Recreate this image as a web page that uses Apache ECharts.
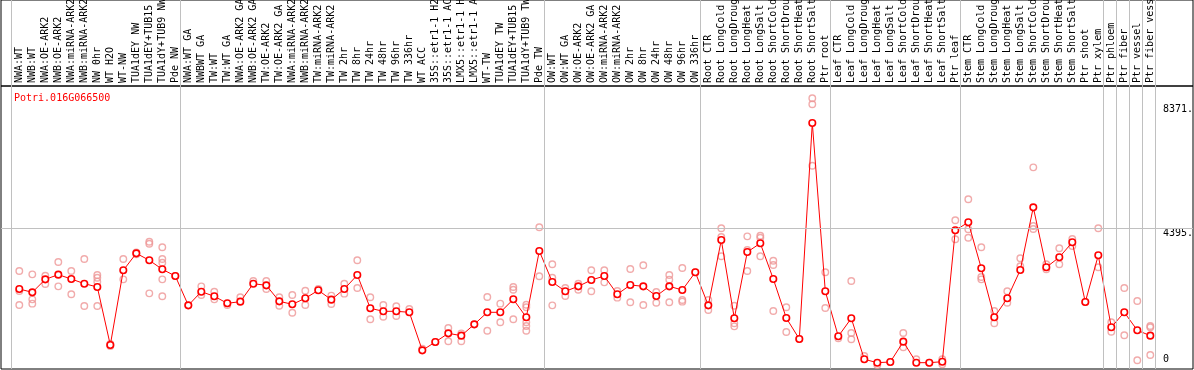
<!DOCTYPE html>
<html>
<head>
<meta charset="utf-8">
<script src="https://cdn.jsdelivr.net/npm/echarts@6/dist/echarts.min.js"></script>
<style>
html,body{margin:0;padding:0;background:#fff;}
#chart{width:1194px;height:370px;}
</style>
</head>
<body>
<div id="chart"></div>
<script>
const geneId = 'Potri.016G066500';

const categories = [
 'NWA:WT','NWB:WT','NWA:OE-ARK2','NWB:OE-ARK2','NWA:miRNA-ARK2','NWB:miRNA-ARK2','NW 0hr','WT H2O','WT-NW',
 'TUA1dEY NW','TUA1dEY+TUB15 NW','TUA1dY+TUB9 NW','Pde NW',
 'NWA:WT GA','NWBWT GA','TW:WT','TW:WT GA','NWA:OE-ARK2 GA','NWB:OE-ARK2 GA','TW:OE-ARK2','TW:OE-ARK2 GA',
 'NWA:miRNA-ARK2','NWB:miRNA-ARK2','TW:miRNA-ARK2','TW:miRNA-ARK2 GA',
 'TW 2hr','TW 8hr','TW 24hr','TW 48hr','TW 96hr','TW 336hr','WT ACC',
 '35S::etr1-1 H2O','35S::etr1-1 ACC','LMX5::etr1-1 H2O','LMX5::etr1-1 ACC','WT-TW',
 'TUA1dEY TW','TUA1dEY+TUB15 TW','TUA1dY+TUB9 TW','Pde TW',
 'OW:WT','OW:WT GA','OW:OE-ARK2','OW:OE-ARK2 GA','OW:miRNA-ARK2','OW:miRNA-ARK2 GA',
 'OW 2hr','OW 8hr','OW 24hr','OW 48hr','OW 96hr','OW 336hr',
 'Root CTR','Root LongCold','Root LongDrought','Root LongHeat','Root LongSalt',
 'Root ShortCold','Root ShortDrought','Root ShortHeat','Root ShortSalt','Ptr root',
 'Leaf CTR','Leaf LongCold','Leaf LongDrought','Leaf LongHeat','Leaf LongSalt',
 'Leaf ShortCold','Leaf ShortDrought','Leaf ShortHeat','Leaf ShortSalt','Ptr leaf',
 'Stem CTR','Stem LongCold','Stem LongDrought','Stem LongHeat','Stem LongSalt',
 'Stem ShortCold','Stem ShortDrought','Stem ShortHeat','Stem ShortSalt','Ptr shoot',
 'Ptr xylem','Ptr phloem','Ptr fiber','Ptr vessel','Ptr fiber vessel'
];

const means = [
 2443,2336,2754,2904,2765,2614,2508,642,3044,3590,3366,3076,2861,
 1918,2357,2208,1983,2036,2614,2561,2046,1951,2144,2401,2101,2443,2893,1822,1726,1726,1694,471,739,1018,943,1307,1694,1694,2112,1533,3664,
 2668,2369,2529,2732,2861,2272,2572,2529,2218,2529,2411,2980,
 1918,4018,1501,3633,3913,2765,1510,836,7780,2369,
 922,1501,183,74,97,750,74,74,106,4330,
 4588,3109,1533,2144,3053,5069,3141,3462,3944,2025,3526,
 1212,1694,1115,943
];

const replicates = [
 [3022,2379,1928],[2914,2111,1972],[2871,2604],[3312,2529],[3022,2272],[3408,1897],[2893,2807,2679,1897],[610,680,650],
 [3408,2754],[3560,3620],[3964,3900,2304],[3784,3408,3289,2754,2208],[2861],
 [1918],[2529,2250],[2357,2111],[1928],[2176],[2700],[2700,2443],[2176,1907],[2250,1681],[2388,1928],[2443],
 [2229,1961],[2614,2293],[3366,2475],[2176,1469],[1928,1553],[1887,1575],[1800],[524],[739],[1189,762],[1018,762],
 [1307],[2185,1103],[1972,1372],[2508,2421,1469],[1939,1854,1372,1253,1103],[4427,2851],
 [3237,2807,1918],[2475,2218],[2614,2421],[3044,2369],[3044,2657],[2379,2165],[3086,2015],[3205,1928],[2347,2003],
 [2893,2743,2015],[3118,2090,2036],[2980],
 [2090,1768],[4395,4115,3494],[1907,1340,1243],[4136,3697,3022],[4157,4093,3494],[3353,3215,1736],[1854,1060],[836],
 [8574,8381,6407],[2980,1833],
 [858],[2700,1029,826],[289],[0],[97],[1029,568],[183],[74],[183,23],[4652,4041],
 [5327,4362,4093],[3784,2829,2754],[1736,1340],[2369,2003],[3430,3173],[6355,4468,4372],[3237,3076],[3751,3237],
 [4051,3826],[2025],[4395,3141],
 [1372,1070],[2475,955],[2057,150],[1253,1212,321]
];

// index of the last sample of each group (a grey rule follows it)
const groupEnds = [-1,12,40,52,62,72,83,84,85,86,87];

const yTicks = [0,4395,8371];
const yTickLabels = ['0','4395.','8371.'];

const FONT = 'DejaVu Sans Mono';
const xMin = -1.408, xMax = 90.285;
const yMin = -129, yMax = 8970;
const ruleOffset = 5/13;

const meanData = means.map((v,i)=>[i,v]);
const repData = replicates.flatMap((r,i)=>r.map(v=>[i,v]));
const sepLines = groupEnds.map(g=>({xAxis: g + ruleOffset}));
const labelFor = v => { const k = yTicks.indexOf(v); return k >= 0 ? yTickLabels[k] : ''; };

const chart = echarts.init(document.getElementById('chart'), null, {renderer:'canvas'});
const ruleStyle = {color:'#c0c0c0', width:1, type:'solid'};

chart.setOption({
  animation:false,
  title:{text:geneId,left:9,top:88,textStyle:{color:'#ff0000',fontSize:10,fontFamily:FONT,fontWeight:'normal'}},
  grid:[
    {left:1,right:1,top:86,bottom:1,show:true,borderColor:'#000',borderWidth:1,backgroundColor:'rgba(0,0,0,0)',
     containLabel:false,outerBoundsMode:'none'},
    {left:1,right:1,top:0,height:86,show:true,borderColor:'#000',borderWidth:1,backgroundColor:'rgba(0,0,0,0)',
     containLabel:false,outerBoundsMode:'none'}
  ],
  xAxis:[
    {type:'value',gridIndex:0,position:'top',min:xMin,max:xMax,
     axisLine:{show:false},axisTick:{show:false},splitLine:{show:false},
     axisLabel:{customValues:categories.map((c,i)=>i),formatter:v=>categories[v] ?? '',
       rotate:90,margin:3,fontFamily:FONT,fontSize:10,color:'#000',hideOverlap:false}},
    {type:'value',gridIndex:1,min:xMin,max:xMax,show:false}
  ],
  yAxis:[
    {type:'value',gridIndex:0,position:'right',min:yMin,max:yMax,
     axisLine:{show:false},axisTick:{show:false},splitLine:{show:false},
     axisLabel:{inside:true,customValues:yTicks.filter(v=>v>0),formatter:labelFor,align:'left',margin:30,
       verticalAlign:'top',fontFamily:FONT,fontSize:10,color:'#000'}},
    {type:'value',gridIndex:0,position:'right',min:yMin,max:yMax,
     axisLine:{show:false},axisTick:{show:false},splitLine:{show:false},
     axisLabel:{inside:true,customValues:yTicks.filter(v=>v===0),formatter:labelFor,align:'left',margin:30,
       verticalAlign:'bottom',padding:[0,0,1,0],fontFamily:FONT,fontSize:10,color:'#000'}},
    {type:'value',gridIndex:1,min:0,max:1,show:false}
  ],
  series:[
    {type:'scatter',xAxisIndex:1,yAxisIndex:2,data:[],silent:true,
     markLine:{silent:true,symbol:['none','none'],label:{show:false},lineStyle:ruleStyle,data:sepLines}},
    {type:'scatter',xAxisIndex:0,yAxisIndex:0,data:repData,z:2,silent:true,
     symbol:'circle',symbolSize:6.5,
     itemStyle:{color:'rgba(255,255,255,0)',borderColor:'rgb(238,150,150)',borderWidth:1.4},
     markLine:{silent:true,symbol:['none','none'],label:{show:false},lineStyle:ruleStyle,
       data:sepLines.concat([{yAxis:yTicks[1]}])}},
    {type:'line',xAxisIndex:0,yAxisIndex:0,data:meanData,z:3,silent:true,
     symbol:'circle',symbolSize:6.5,showSymbol:true,showAllSymbol:true,
     lineStyle:{color:'#ff0000',width:1},
     itemStyle:{color:'#ffffff',borderColor:'#ff0000',borderWidth:1.6}}
  ]
});
</script>
</body>
</html>
